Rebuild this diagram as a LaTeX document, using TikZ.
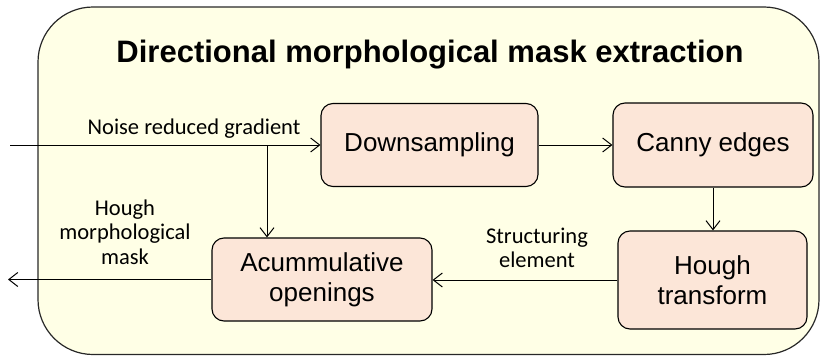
\documentclass[tikz,border=0pt]{standalone}
\usepackage{fontspec}
\setmainfont{Liberation Sans}
\newfontfamily\calib{Carlito}
\usetikzlibrary{arrows.meta}
\definecolor{outerfill}{RGB}{255,255,230}
\definecolor{boxfill}{RGB}{252,230,216}
\definecolor{outerline}{RGB}{40,40,40}
\tikzset{
  procbox/.style={draw=black, fill=boxfill, line width=1.1pt, rounded corners=12pt,
    align=center, inner sep=0pt, font=\fontsize{26}{30}\selectfont},
  conn/.style={line width=1pt, -{Straight Barb[length=9pt,width=14pt,line width=1pt]}},
  lbl/.style={align=center, font=\calib\fontsize{22.5}{24.5}\selectfont, inner sep=0pt},
}
\begin{document}
\begin{tikzpicture}[x=1pt,y=-1pt]
\useasboundingbox (0,0) rectangle (820,356);
\draw[fill=outerfill, draw=outerline, line width=1.2pt, rounded corners=55pt] (38,7) rectangle (819,354.5);
\node[font=\bfseries\fontsize{31}{34}\selectfont, inner sep=0pt] (title) at (430,55) {Directional morphological mask extraction};
\node[procbox, minimum width=217pt, minimum height=83pt] (down) at (429.5,145) {Downsampling};
\node[procbox, minimum width=200pt, minimum height=84pt] (canny) at (713,145) {Canny edges};
\node[procbox, minimum width=189pt, minimum height=98pt] (hough) at (712.5,280) {Hough\\transform};
\node[procbox, minimum width=220pt, minimum height=83pt] (acc) at (322,279.5) {Acummulative\\openings};
\coordinate (in) at (10,145);
\coordinate (br) at (267,145);
\coordinate (out) at (8,279.5);
\draw[conn] (in) -- (down.west);
\draw[conn] (br) -- (br |- acc.north);
\draw[conn] (down.east) -- (canny.west);
\draw[conn] (canny.south) -- (canny.south |- hough.north);
\draw[conn] (hough.west) -- (hough.west -| acc.east);
\draw[conn] (acc.west) -- (out);
\node[lbl] (lnoise) at (194,129) {Noise reduced gradient};
\node[lbl] (lmask) at (125,232) {Hough\\morphological\\mask};
\node[lbl] (lstruct) at (537,248) {Structuring\\element};
\end{tikzpicture}
\end{document}
